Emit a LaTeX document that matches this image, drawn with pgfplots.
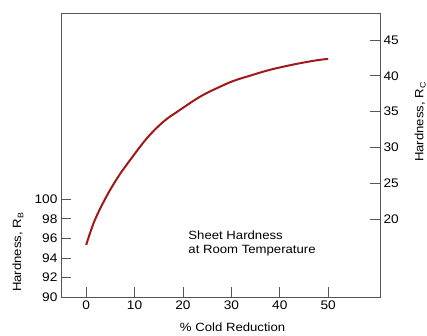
\documentclass[border=0pt]{standalone}
\usepackage{fontspec}
\setmainfont{Liberation Sans}[FakeStretch=1.1]
\usepackage{pgfplots}
\pgfplotsset{compat=1.18}
\definecolor{curve}{HTML}{A01818}
\definecolor{axgray}{HTML}{555555}
\begin{document}
\begin{tikzpicture}
\path[use as bounding box] (-61bp,-38.7bp) rectangle (366bp,297.3bp);
\pgfplotsset{
  common/.style={scale only axis, width=319bp, height=284.3bp, at={(0,0)}, anchor=south west,
    xmin=-5.2, xmax=60.7, tick align=inside, major tick length=10bp,
    axis line style={axgray, line width=0.8bp}, tick style={axgray, line width=0.8bp},
    tick label style={font=\fontsize{12.5}{14}\selectfont},
    /pgf/number format/assume math mode=true}
}
\begin{axis}[common, ymin=90, ymax=119, ytick={90,92,...,100}, ytick pos=left,
  xtick={0,10,...,50}, xtick pos=bottom,
  xlabel={\% Cold Reduction},
  xlabel style={font=\fontsize{12}{14}\selectfont, at={(axis description cs:0.538,-0.106)}, anchor=center},
  ylabel={Hardness, R\raisebox{-0.35ex}{\footnotesize B}},
  ylabel style={font=\fontsize{12}{14}\selectfont, at={(axis description cs:-0.135,0.158)}, anchor=center}]
\addplot[curve, line width=2bp, smooth, tension=0.6] coordinates {
(0,95.34) (1.8,97.89) (4.55,100.61) (7.29,102.8) (9.09,104.01) (12.54,106.22)
(15.97,107.92) (19.42,109.13) (23.55,110.47) (27.0,111.33) (30.43,112.07) (33.88,112.61)
(37.33,113.12) (40.76,113.53) (44.21,113.88) (47.67,114.18) (50,114.32)};
\node[anchor=west, align=left, font=\fontsize{12}{14}\selectfont] at (axis cs:20.4,95.5) {Sheet Hardness\\at Room Temperature};
\end{axis}
\begin{axis}[common, ymin=9.06, ymax=48.77, ytick={20,25,...,45}, ytick pos=right,
  xtick=\empty, axis line style={draw=none},
  ylabel={Hardness, R\raisebox{-0.35ex}{\footnotesize C}},
  ylabel style={font=\fontsize{12}{14}\selectfont, at={(axis description cs:1.126,0.616)}, anchor=center}]
\end{axis}
\end{tikzpicture}
\end{document}
